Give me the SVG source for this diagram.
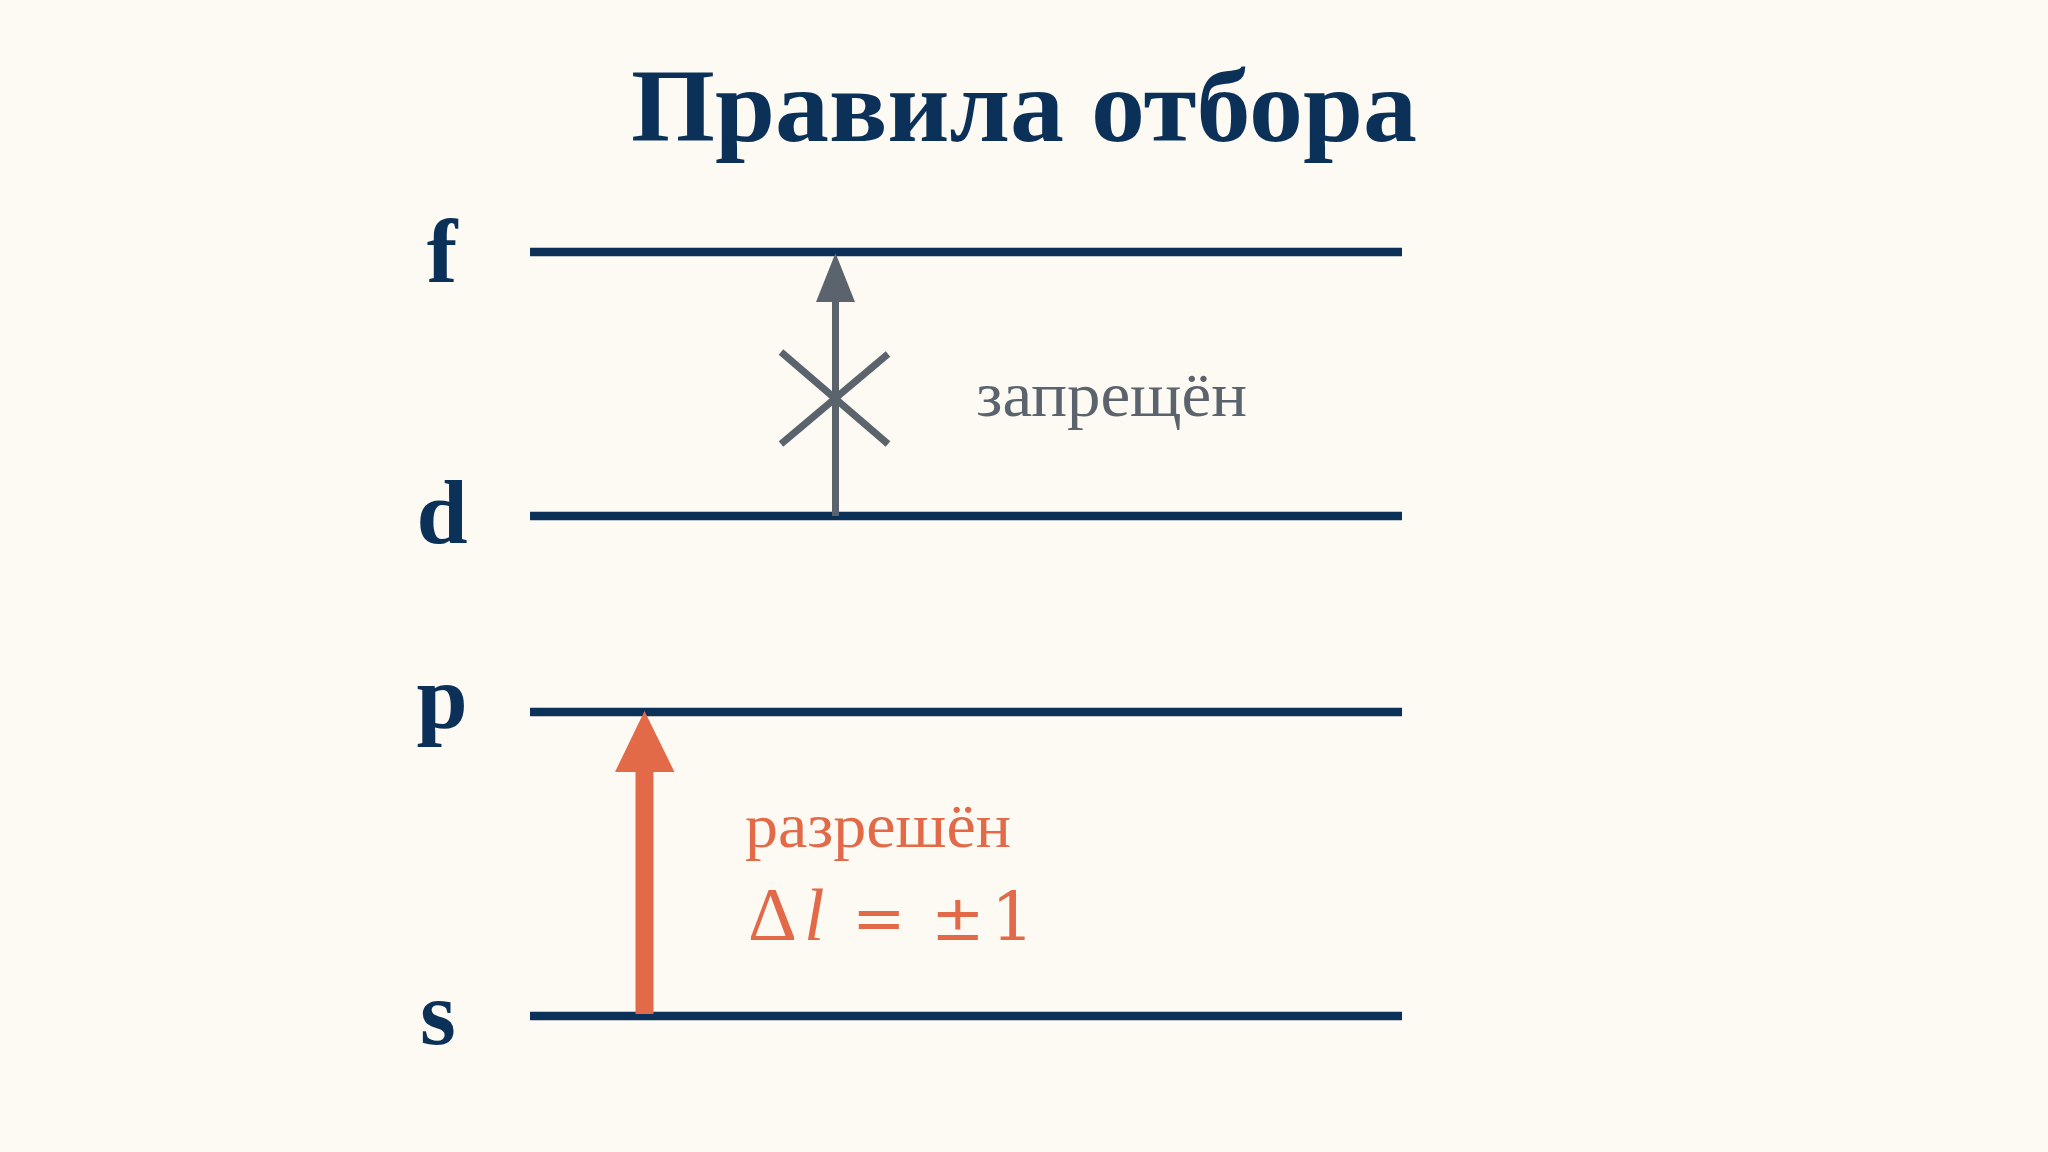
<svg xmlns="http://www.w3.org/2000/svg" width="2048" height="1152" viewBox="0 0 2048 1152">
  <style>
    .title { font-family: "Liberation Serif", "Times New Roman", serif; font-weight: bold; fill: #0b3158; }
    .lbl { font-family: "Liberation Serif", "Times New Roman", serif; font-weight: bold; font-size: 92px; fill: #0b3158; }
    .level { stroke: #0b3158; stroke-width: 8.5; fill: none; }
    .grey { font-family: "Liberation Serif", "Times New Roman", serif; font-size: 64px; fill: #5b646d; }
    .orange { font-family: "Liberation Serif", "Times New Roman", serif; font-size: 64px; fill: #e36a48; }
    .math { font-family: "Liberation Serif", "Times New Roman", serif; font-size: 74px; fill: #e36a48; }
    .mop { font-family: "DejaVu Serif", "Liberation Serif", serif; }
  </style>
  <rect x="0" y="0" width="2048" height="1152" fill="#fdfaf3"/>

  <text id="title" class="title" x="1024" y="141" font-size="104" text-anchor="middle" textLength="786" lengthAdjust="spacingAndGlyphs">Правила отбора</text>

  <g id="level-f">
    <line class="level" x1="530" y1="252" x2="1402" y2="252"/>
    <text class="lbl" x="442" y="282" text-anchor="middle">f</text>
  </g>
  <g id="level-d">
    <line class="level" x1="530" y1="516" x2="1402" y2="516"/>
    <text class="lbl" x="442" y="543" text-anchor="middle">d</text>
  </g>
  <g id="level-p">
    <line class="level" x1="530" y1="712" x2="1402" y2="712"/>
    <text class="lbl" x="442" y="728" text-anchor="middle">p</text>
  </g>
  <g id="level-s">
    <line class="level" x1="530" y1="1016" x2="1402" y2="1016"/>
    <text class="lbl" x="438" y="1044" text-anchor="middle" font-size="96">s</text>
  </g>

  <g id="connectors">
    <g id="forbidden">
      <line x1="835.5" y1="516" x2="835.5" y2="298" stroke="#5b646d" stroke-width="7"/>
      <polygon points="835.5,253 816,302 855,302" fill="#5b646d"/>
      <line x1="781" y1="352" x2="888" y2="444" stroke="#5b646d" stroke-width="7"/>
      <line x1="781" y1="444" x2="888" y2="354" stroke="#5b646d" stroke-width="7"/>
    </g>
    <g id="allowed">
      <rect x="635.5" y="768" width="18" height="246" fill="#e36a48"/>
      <polygon points="644.5,711 615,772 674.5,772" fill="#e36a48"/>
    </g>
  </g>

  <g id="labels">
    <text class="grey" x="976" y="416" textLength="271" lengthAdjust="spacingAndGlyphs">запрещён</text>
    <text class="orange" x="745" y="847" textLength="266" lengthAdjust="spacingAndGlyphs">разрешён</text>
    <text class="math" y="940"><tspan x="748" font-size="76">Δ</tspan><tspan x="804" font-style="italic">l</tspan><tspan class="mop" x="852" font-size="64">=</tspan><tspan class="mop" x="931" font-size="64">±</tspan><tspan class="mop" x="991" font-size="68">1</tspan></text>
  </g>
</svg>
